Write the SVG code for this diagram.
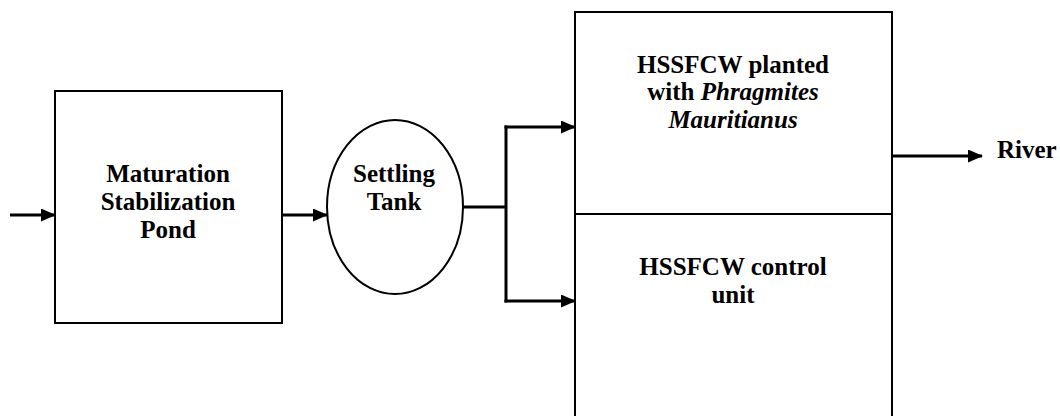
<svg xmlns="http://www.w3.org/2000/svg" width="1060" height="416" viewBox="0 0 1060 416">
  <style>
    .box { fill: #ffffff; stroke: #000000; stroke-width: 2; }
    .conn { fill: none; stroke: #000000; stroke-width: 3; }
  </style>
  <defs>
    <marker id="arrow" markerUnits="userSpaceOnUse" markerWidth="15" markerHeight="13" refX="14" refY="6.5" orient="auto">
      <path d="M0,0 L15,6.5 L0,13 Z" fill="#000000"/>
    </marker>
  </defs>
  <rect width="1060" height="416" fill="#ffffff"/>

  <g font-family="Liberation Serif" font-size="25" font-weight="bold" fill="#000000" text-anchor="middle">
    <g id="pond">
      <rect class="box" x="55" y="91" width="227" height="232"/>
      <text x="168" y="182">Maturation</text>
      <text x="168" y="210">Stabilization</text>
      <text x="168" y="238">Pond</text>
    </g>

    <g id="tank">
      <ellipse class="box" cx="395" cy="207" rx="68" ry="87"/>
      <text x="394" y="182">Settling</text>
      <text x="394" y="210">Tank</text>
    </g>

    <g id="wetland">
      <rect class="box" x="575" y="12" width="317" height="420"/>
      <line x1="575" y1="214" x2="892" y2="214" stroke="#000000" stroke-width="2"/>
      <text x="733" y="73">HSSFCW planted</text>
      <text x="733" y="100">with <tspan font-style="italic">Phragmites</tspan></text>
      <text x="733" y="128" font-style="italic">Mauritianus</text>
      <text x="733" y="275">HSSFCW control</text>
      <text x="733" y="303">unit</text>
    </g>

    <g id="river">
      <text x="997" y="158" text-anchor="start">River</text>
    </g>
  </g>

  <g id="connectors">
    <line class="conn" x1="10" y1="215" x2="55" y2="215" marker-end="url(#arrow)"/>
    <line class="conn" x1="282" y1="215" x2="327" y2="215" marker-end="url(#arrow)"/>
    <line class="conn" x1="463" y1="207" x2="506" y2="207"/>
    <line class="conn" x1="506" y1="125.5" x2="506" y2="302.5"/>
    <line class="conn" x1="504.5" y1="127" x2="575" y2="127" marker-end="url(#arrow)"/>
    <line class="conn" x1="504.5" y1="301" x2="575" y2="301" marker-end="url(#arrow)"/>
    <line class="conn" x1="892" y1="156" x2="982" y2="156" marker-end="url(#arrow)"/>
  </g>
</svg>
